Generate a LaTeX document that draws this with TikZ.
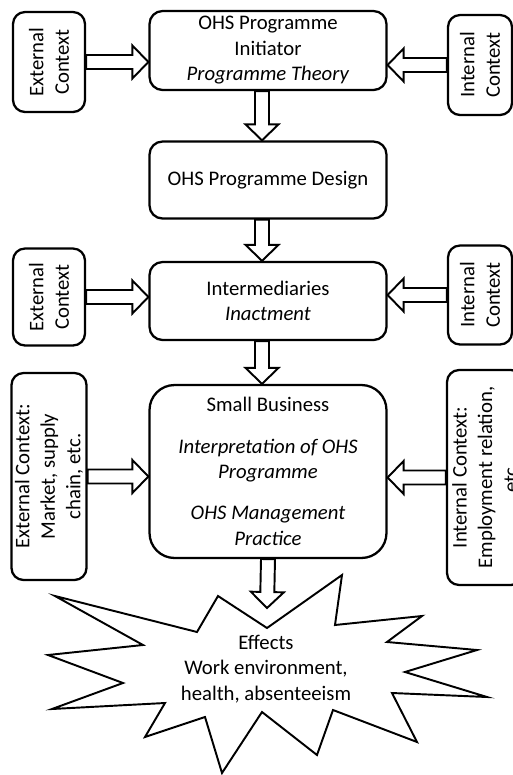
\documentclass[tikz,border=0pt]{standalone}
\usepackage{fontspec}
\setmainfont{Carlito}
\usetikzlibrary{calc}

\tikzset{
  mainbox/.style={draw, line width=1.3pt, rounded corners=0.26cm, minimum width=4.74cm, align=center, inner sep=2pt},
  ctxbox/.style={draw, line width=1.3pt, rounded corners=0.24cm, rotate=90, align=center, inner sep=2pt},
  fatarrow/.style={draw, fill=white, line width=1.1pt, line join=miter,
    to path={
      ($(\tikztostart)!0.14cm!90:(\tikztotarget)$)
      -- ($($(\tikztotarget)!0.32cm!(\tikztostart)$)!0.14cm!-90:(\tikztostart)$)
      -- ($($(\tikztotarget)!0.32cm!(\tikztostart)$)!0.33cm!-90:(\tikztostart)$)
      -- (\tikztotarget)
      -- ($($(\tikztotarget)!0.32cm!(\tikztostart)$)!0.33cm!90:(\tikztostart)$)
      -- ($($(\tikztotarget)!0.32cm!(\tikztostart)$)!0.14cm!90:(\tikztostart)$)
      -- ($(\tikztostart)!0.14cm!-90:(\tikztotarget)$)
      -- cycle}},
}

\begin{document}
\begin{tikzpicture}[x=0.02cm, y=-0.02cm, font=\fontsize{11.8}{14.5}\selectfont]
\useasboundingbox (0,0) rectangle (513,775);

% programme chain
\node[mainbox, minimum height=1.58cm] (init) at (268,50.5) {OHS Programme\\Initiator\\\textit{Programme Theory}};
\node[mainbox, minimum height=1.54cm] (design) at (268,180) {OHS Programme Design};
\node[mainbox, minimum height=1.56cm] (inter) at (268,301) {Intermediaries\\\textit{Inactment}};
\node[mainbox, minimum height=3.46cm, rounded corners=0.5cm] (small) at (268,471.5) {Small Business\\[9pt]\textit{Interpretation of OHS}\\\textit{Programme}\\[9pt]\textit{OHS Management}\\\textit{Practice}};

% context boxes
\node[ctxbox, minimum width=2cm, minimum height=1.44cm] (extA) at (49,62) {External\\Context};
\node[ctxbox, minimum width=2cm, minimum height=1.28cm] (intA) at (480,65) {Internal\\Context};
\node[ctxbox, minimum width=1.94cm, minimum height=1.44cm] (extB) at (49,297) {External\\Context};
\node[ctxbox, minimum width=1.98cm, minimum height=1.28cm] (intB) at (480,295) {Internal\\Context};
\node[ctxbox, minimum width=4.14cm, minimum height=1.44cm] (extC) at (49,476.5) {External Context:\\Market, supply\\chain, etc.};
\node[ctxbox, minimum width=4.3cm, minimum height=1.52cm] (intC) at (485,477.5) {Internal Context:\\Employment relation,\\etc.};

% effects
\draw[line width=1.1pt, line join=miter] (218,596) -- (267,628) -- (342,575) -- (335,625) -- (422,616) -- (387,642)
  -- (477,650) -- (405,672) -- (487,697) -- (392,693) -- (417,742) -- (333,710) -- (317,755) -- (262,712)
  -- (222,773) -- (205,717) -- (145,737) -- (165,703) -- (52,709) -- (123,683) -- (48,655) -- (143,645)
  -- (55,596) -- (197,632) -- cycle;
\node[align=center] (fx) at (266,669) {Effects\\Work environment,\\health, absenteeism};
\coordinate (fxtop) at (267,608);

% arrows
\draw[fatarrow] ([xshift=-0.12cm]init.south) to ([xshift=-0.12cm]design.north);
\draw[fatarrow] ([xshift=-0.12cm]design.south) to ([xshift=-0.12cm]inter.north);
\draw[fatarrow] ([xshift=-0.12cm]inter.south) to ([xshift=-0.12cm]small.north);
\draw[fatarrow] (small.south) to (fxtop);
\draw[fatarrow] (extA.south) to (extA.south -| init.west);
\draw[fatarrow] (intA.north) to (intA.north -| init.east);
\draw[fatarrow] (extB.south) to (extB.south -| inter.west);
\draw[fatarrow] (intB.north) to (intB.north -| inter.east);
\draw[fatarrow] (extC.south) to (extC.south -| small.west);
\draw[fatarrow] (intC.north) to (intC.north -| small.east);
\end{tikzpicture}
\end{document}
